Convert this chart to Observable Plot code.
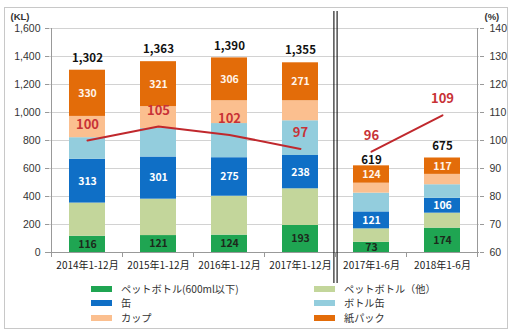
<!DOCTYPE html>
<html><head><meta charset="utf-8">
<script src="https://cdn.jsdelivr.net/npm/d3@7"></script>
<script src="https://cdn.jsdelivr.net/npm/@observablehq/plot@0.6"></script>
<style>
body{margin:0;background:#fff;font-family:"Noto Sans CJK JP","Noto Sans",sans-serif;}
#wrap{position:relative;width:520px;height:336px;overflow:hidden;background:#fff}
#frame{position:absolute;left:4px;top:7px;width:504px;height:322px;border:1px solid #c8c8c8;box-sizing:border-box}
#chart{position:absolute;left:0;top:0}
#legend{position:absolute;left:0;top:0;width:520px;height:336px;font-size:10.2px;color:#333;line-height:12px}
.li{position:absolute;display:flex;align-items:center;height:12px;white-space:nowrap}
.sw{width:21px;height:6px;margin-right:9px;flex:none}
</style></head><body>
<div id="wrap"><div id="frame"></div><div id="chart"></div><div id="legend"></div></div>
<script>
// ---- data ----
const categories = ["2014年1-12月","2015年1-12月","2016年1-12月","2017年1-12月","2017年1-6月","2018年1-6月"];
const seriesNames = ["ペットボトル(600ml以下)","ペットボトル（他）","缶","ボトル缶","カップ","紙パック"];
const pet600     = [116,121,124,193, 73,174];
const petOther   = [237,260,278,262, 96,107];
const cans       = [313,301,275,238,121,106];
const bottleCans = [154,204,244,248,134, 97];
const cups       = [152,156,163,143, 71, 74];
const paperPacks = [330,321,306,271,124,117];
const totals     = [1302,1363,1390,1355,619,675];
const ratios     = [100,105,102,97,96,109];
const ratioGroups = ["full","full","full","full","half","half"];
const leftTicks  = [0,200,400,600,800,1000,1200,1400,1600];
const rightTicks = [60,70,80,90,100,110,120,130,140];

// ---- styles ----
const seriesColors = ["#1fa552","#c3d69b","#0f6fc6","#93cddd","#fbbf8f","#e36c09"];
const labelColors  = ["#1c2a1c",null,"#ffffff",null,null,"#fff4ea"];
const legendCols = [[0,2,4],[1,3,5]];
const loweredTotal = "2017年1-6月"; // label sits closer to its bar to clear the line

const seriesValues = [pet600, petOther, cans, bottleCans, cups, paperPacks];
const rows = categories.flatMap((c,i) => seriesNames.map((s,j) => ({
  cat:c, series:s, value:seriesValues[j][i], labelColor:labelColors[j]
})));
const totalRows = categories.map((c,i) => ({cat:c, total:totals[i]}));
const ratioRows = categories.map((c,i) => ({cat:c, ratio:ratios[i], group:ratioGroups[i]}));
// map right-axis percentage onto left-axis units
const pMin = rightTicks[0], pMax = rightTicks[rightTicks.length-1];
const lMax = leftTicks[leftTicks.length-1];
const toLeft = p => (p - pMin) / (pMax - pMin) * lMax;
const toPct = v => pMin + v / lMax * (pMax - pMin);

const font = '"Noto Sans CJK JP","Noto Sans",sans-serif';
const numFont = '"Liberation Sans",Arial,sans-serif';
const totalOpts = {x:"cat", y:"total", text:d => d3.format(",")(d.total), fontWeight:"bold", fontSize:11.5, fill:"#111"};
const plot = Plot.plot({
  width:520, height:290,
  marginLeft:49, marginRight:41, marginTop:28, marginBottom:38,
  style:{fontFamily:font, fontSize:"10px", color:"#333", background:"transparent", overflow:"visible"},
  x:{domain:categories, paddingInner:0.5, paddingOuter:0.25, axis:null},
  y:{domain:[0,lMax], axis:null},
  color:{domain:seriesNames, range:seriesColors},
  marks:[
    Plot.gridY(leftTicks.slice(1), {stroke:"#d2d2d2", strokeOpacity:1}),
    Plot.barY(rows, {x:"cat", y:"value", fill:"series", order:seriesNames}),
    Plot.text(rows, Plot.stackY({x:"cat", y:"value", z:"series", order:seriesNames,
      text:d => d.labelColor ? String(d.value) : "", fill:d => d.labelColor || "none",
      fontWeight:"bold", fontSize:10.5})),
    Plot.text(totalRows.filter(d => d.cat !== loweredTotal), {...totalOpts, dy:-12}),
    Plot.text(totalRows.filter(d => d.cat === loweredTotal), {...totalOpts, dy:-6}),
    Plot.line(ratioRows, {x:"cat", y:d => toLeft(d.ratio), z:"group", stroke:"#c0282d", strokeWidth:2}),
    Plot.text(ratioRows, {x:"cat", y:d => toLeft(d.ratio), text:d => String(d.ratio), dy:-16,
      fill:"#c83236", fontWeight:"bold", fontSize:13}),
    Plot.ruleY([0], {stroke:"#999"}),
    Plot.axisY({ticks:leftTicks, anchor:"left", tickFormat:d3.format(","), tickSize:4, tickPadding:5,
      stroke:"#999", color:"#333", fontSize:10.5, fontFamily:numFont, label:null}),
    Plot.axisY({ticks:leftTicks, anchor:"right", tickFormat:d => String(toPct(d)), tickSize:4, tickPadding:6,
      stroke:"#999", color:"#333", fontSize:10.5, fontFamily:numFont, label:null}),
    Plot.axisX({anchor:"bottom", tickSize:0, tickPadding:9, color:"#222", fontSize:10, label:null}),
    Plot.text(["(KL)"], {frameAnchor:"top-left", text:d => d, dx:-39, dy:-15, textAnchor:"start",
      fontWeight:"bold", fontSize:9.5, fontFamily:numFont, fill:"#333"}),
    Plot.text(["(%)"], {frameAnchor:"top-right", text:d => d, dx:5, dy:-15, textAnchor:"start",
      fontWeight:"bold", fontSize:9.5, fontFamily:numFont, fill:"#333"})
  ]
});
document.getElementById("chart").appendChild(plot);

// axis lines, category boundary ticks, double divider
const svg = d3.select(plot);
const xs = plot.scale("x");
const n = categories.length;
const step = xs.step || (xs.range[1]-xs.range[0]) / (n - 0.5 + 0.5);
const bw = xs.bandwidth || step*0.5;
const gap = (step - bw) / 2;
const y0 = 290 - 38, yTop = 28;
const bounds = categories.map(c => xs.apply(c) - gap);
bounds.push(xs.apply(categories[n-1]) + bw + gap);
const g = svg.append("g");
[bounds[0], bounds[n]].forEach(x => g.append("line").attr("x1",x).attr("x2",x).attr("y1",yTop).attr("y2",y0)
  .attr("stroke","#999"));
bounds.forEach(x => g.append("line").attr("x1",x).attr("x2",x).attr("y1",y0).attr("y2",y0+5).attr("stroke","#999"));
const div = bounds[4];
[-1.6, 1.6].forEach(o => g.append("line").attr("x1",div+o).attr("x2",div+o).attr("y1",11).attr("y2",283)
  .attr("stroke","#111").attr("stroke-width",1.1));

// legend
const legend = document.getElementById("legend");
const colX = [91, 314], rowY = [283, 297, 312];
legendCols.forEach((col,ci) => col.forEach((si,ri) => {
  const it = document.createElement("div");
  it.className = "li";
  it.style.left = colX[ci] + "px";
  it.style.top = rowY[ri] + "px";
  it.innerHTML = `<span class="sw" style="background:${seriesColors[si]}"></span><span>${seriesNames[si]}</span>`;
  legend.appendChild(it);
}));
</script>
</body></html>
